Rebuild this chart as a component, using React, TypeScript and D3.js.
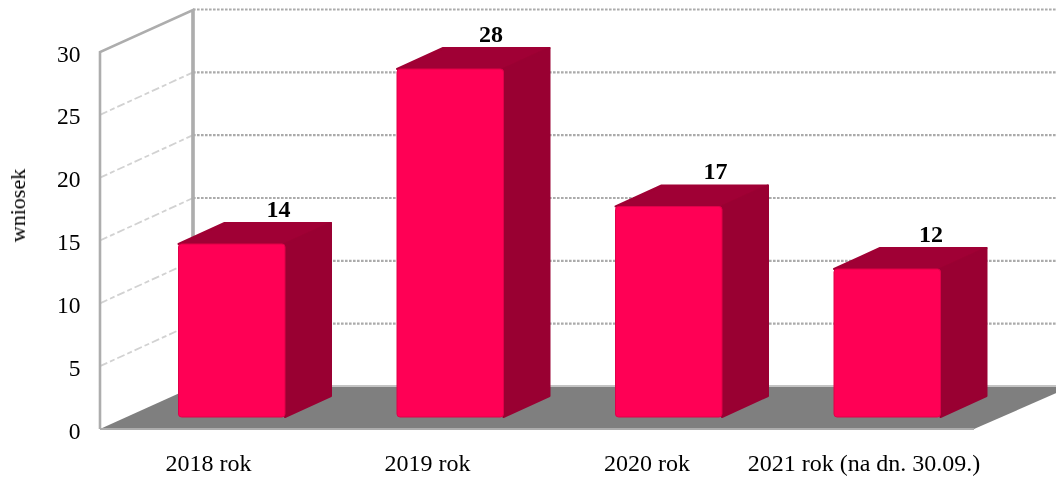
import React from "react";
import * as d3 from "d3";

const categories = ["2018 rok", "2019 rok", "2020 rok", "2021 rok (na dn. 30.09.)"];
const values = [14, 28, 17, 12];
const yTicks = [0, 5, 10, 15, 20, 25, 30];
const axisTitle = "wniosek";

const W = 1056, H = 477;
const FONT = "'Liberation Serif','Times New Roman',serif";

export default function App() {
  // front plane of the plot
  const y = d3.scaleLinear().domain([0, 30]).range([429, 52]);
  // plane the bars stand on
  const yBar = d3.scaleLinear().domain([0, 30]).range([419, 44]);
  const barX = d3.scaleBand<string>().domain(categories).range([122.5, 996.5]).padding(0);
  const depthX = 93, depthY = -42.5;
  const barDX = 46, barDY = -21;

  const line = d3.line<[number, number]>();
  const bw = 106.5;
  const centers = categories.map((c) => (barX(c) as number) + barX.bandwidth() / 2);
  const labelOffsets = [100, 94, 100, 97];
  const r = 3;

  return (
    <div style={{ position: "absolute", left: 0, top: 0, width: W, height: H, background: "#fff", overflow: "hidden" }}>
      <svg width={W} height={H} style={{ display: "block" }} fontFamily={FONT}>
        <defs>
          <filter id="soft" x="-5%" y="-5%" width="110%" height="110%">
            <feGaussianBlur stdDeviation="0.7" />
          </filter>
          <filter id="fuzz" x="0" y="0" width={W} height={H} filterUnits="userSpaceOnUse">
            <feGaussianBlur stdDeviation="0.45" />
          </filter>
          <filter id="textSoft" x="0" y="0" width={W} height={H} filterUnits="userSpaceOnUse">
            <feGaussianBlur stdDeviation="0.25" />
          </filter>
        </defs>

        <g filter="url(#fuzz)">
          {/* back wall gridlines */}
          {yTicks.filter((t) => t > 0).map((t) => (
            <line key={t} x1={100 + depthX} x2={W} y1={y(t) + depthY} y2={y(t) + depthY}
              stroke="#ababab" strokeWidth={2.2} strokeDasharray="2.6 1.4" />
          ))}
          {/* side wall gridlines */}
          {yTicks.filter((t) => t > 0 && t < 30).map((t) => (
            <line key={t} x1={100} x2={100 + depthX} y1={y(t)} y2={y(t) + depthY}
              stroke="#d2d2d2" strokeWidth={1.8} strokeDasharray="8 3 5 3" />
          ))}
          {/* floor */}
          <line x1={193} x2={W} y1={386} y2={386} stroke="#c4c4c4" strokeWidth={2} />
          <path d={line([[100, 429], [193, 387], [1070, 387], [974, 429]]) + "Z"} fill="#7f7f7f" />
          {/* walls */}
          <path d={line([[100, 429], [100, 52], [193, 10], [193, 386.5]]) as string} fill="none" stroke="#adadad" strokeWidth={2.6} />
          <line x1={193} x2={193} y1={10} y2={386.5} stroke="#adadad" strokeWidth={3.5} />
          <line x1={100} x2={974} y1={429} y2={429} stroke="#adadad" strokeWidth={2} />
        </g>

        <g filter="url(#textSoft)">
          {/* y ticks */}
          {yTicks.map((t) => (
            <text key={t} x={80.5} y={y(t) + 9.5} textAnchor="end" fontSize={23.5} fill="#000">{t}</text>
          ))}
          <text transform="translate(25,205.5) rotate(-90)" textAnchor="middle" fontSize={22} fill="#000">{axisTitle}</text>
        </g>

        {/* bars */}
        {categories.map((c, i) => {
          const cx = centers[i];
          const x0 = cx - bw / 2, x1 = x0 + bw;
          const yb = yBar(0) - 2;
          const yt = yBar(values[i]);
          const topPts: [number, number][] = [[x0, yt], [x0 + barDX, yt + barDY], [x1 + barDX, yt + barDY], [x1, yt]];
          const sidePts: [number, number][] = [[x1, yt], [x1 + barDX, yt + barDY], [x1 + barDX, yb + barDY], [x1, yb]];
          return (
            <g key={c}>
              <g filter="url(#soft)">
                <path d={line(topPts) + "Z"} fill="#a00034" stroke="#a00034" strokeWidth={2} strokeLinejoin="round" />
                <path d={line(sidePts) + "Z"} fill="#990033" stroke="#990033" strokeWidth={2} strokeLinejoin="round" />
                <rect x={x0} y={yt} width={bw} height={yb - yt} rx={r} fill="#ff0055" stroke="#e00048" strokeWidth={1} />
              </g>
              <text x={x0 + labelOffsets[i]} y={yt + barDY - 6.5} textAnchor="middle" fontSize={24} fontWeight="bold" fill="#000" filter="url(#textSoft)">{values[i]}</text>
            </g>
          );
        })}

        {/* x labels */}
        <g filter="url(#textSoft)">
          {categories.map((c, i) => (
            <text key={c} x={[208.5, 427.5, 647, 864][i]} y={471} textAnchor="middle" fontSize={24} fill="#000">{c}</text>
          ))}
        </g>
      </svg>
    </div>
  );
}
